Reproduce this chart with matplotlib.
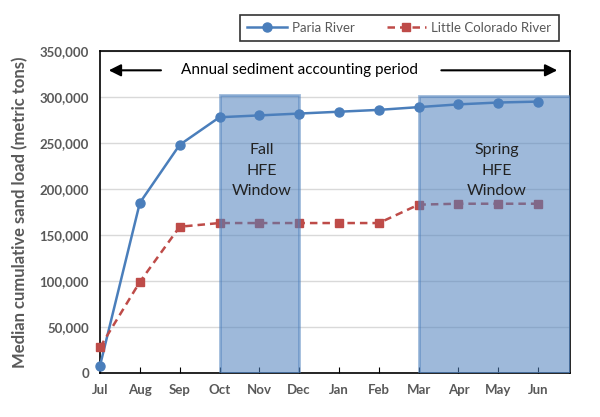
import matplotlib.pyplot as plt
from matplotlib.patches import Rectangle

plt.rcParams['font.family'] = ['Lato', 'DejaVu Sans']

months = ['Jul', 'Aug', 'Sep', 'Oct', 'Nov', 'Dec', 'Jan', 'Feb', 'Mar', 'Apr', 'May', 'Jun']
paria = [8000, 185000, 248000, 278000, 280000, 282000, 284000, 286000, 289000, 292000, 294000, 295000]
lcr = [28000, 99000, 159000, 163000, 163000, 163000, 163000, 163000, 183000, 184000, 184000, 184000]

# HFE windows: (start index, end index, top value, label)
fall_window = (3, 5, 302000, 'Fall\nHFE\nWindow')
spring_window = (8, 11.8, 301000, 'Spring\nHFE\nWindow')

gray = '#595959'
blue = '#4a7ebb'
red = '#be4b48'

fig = plt.figure(figsize=(6, 4.17), dpi=100)
ax = fig.add_axes([0.1667, 0.1055, 0.7833, 0.7722])

x = list(range(len(months)))
ax.plot(x, paria, color=blue, lw=1.8, marker='o', ms=6.5, label='Paria River', zorder=3, clip_on=False)
ax.plot(x, lcr, color=red, lw=1.8, ls=(0, (3, 2)), marker='s', ms=6, label='Little Colorado River',
        zorder=3, clip_on=False)

for x0, x1, top, txt in [fall_window, spring_window]:
    ax.add_patch(Rectangle((x0, 0), x1 - x0, top, facecolor='#4f81bd', alpha=0.55,
                           edgecolor='#4f81bd', lw=2, zorder=4))
    ax.text((x0 + x1) / 2 + 0.05, 220000, txt, ha='center', va='center', fontsize=11.5,
            linespacing=1.6, color='#222222', zorder=5)

ax.set_xlim(0, 11.8)
ax.set_ylim(0, 350000)
ax.set_xticks(x)
ax.set_xticklabels(months)
ax.set_yticks(range(0, 350001, 50000))
ax.set_yticklabels(['{:,}'.format(v) for v in range(0, 350001, 50000)])
ax.tick_params(axis='x', direction='in', length=4, pad=8, labelsize=9.5, labelcolor=gray)
ax.tick_params(axis='y', length=0, pad=8, labelsize=9.5, labelcolor=gray)
for lbl in ax.get_xticklabels() + ax.get_yticklabels():
    lbl.set_fontweight('bold')
ax.grid(axis='y', color='#d9d9d9', lw=1)
ax.set_axisbelow(True)
for s in ax.spines.values():
    s.set_color('black')
    s.set_linewidth(1.2)

ax.set_ylabel('Median cumulative sand load (metric tons)', fontsize=12, color=gray,
              fontweight='bold', labelpad=8)

# accounting period annotation
ax.text(5.0, 329000, 'Annual sediment accounting period', ha='center', va='center', fontsize=11)
ax.annotate('', xy=(0.15, 329000), xytext=(1.6, 329000),
            arrowprops=dict(arrowstyle='-|>', color='black', lw=1.5, mutation_scale=18))
ax.annotate('', xy=(11.55, 329000), xytext=(8.5, 329000),
            arrowprops=dict(arrowstyle='-|>', color='black', lw=1.5, mutation_scale=18))

leg = fig.legend(loc='upper left', bbox_to_anchor=(0.40, 0.965), ncol=2, frameon=True,
                 fancybox=False, fontsize=9.5, labelcolor=gray, handlelength=3,
                 columnspacing=2.4, handletextpad=0.4, borderpad=0.55, borderaxespad=0)
leg.get_frame().set_edgecolor('black')
leg.get_frame().set_linewidth(1.2)

fig.savefig('out.png', dpi=100)
